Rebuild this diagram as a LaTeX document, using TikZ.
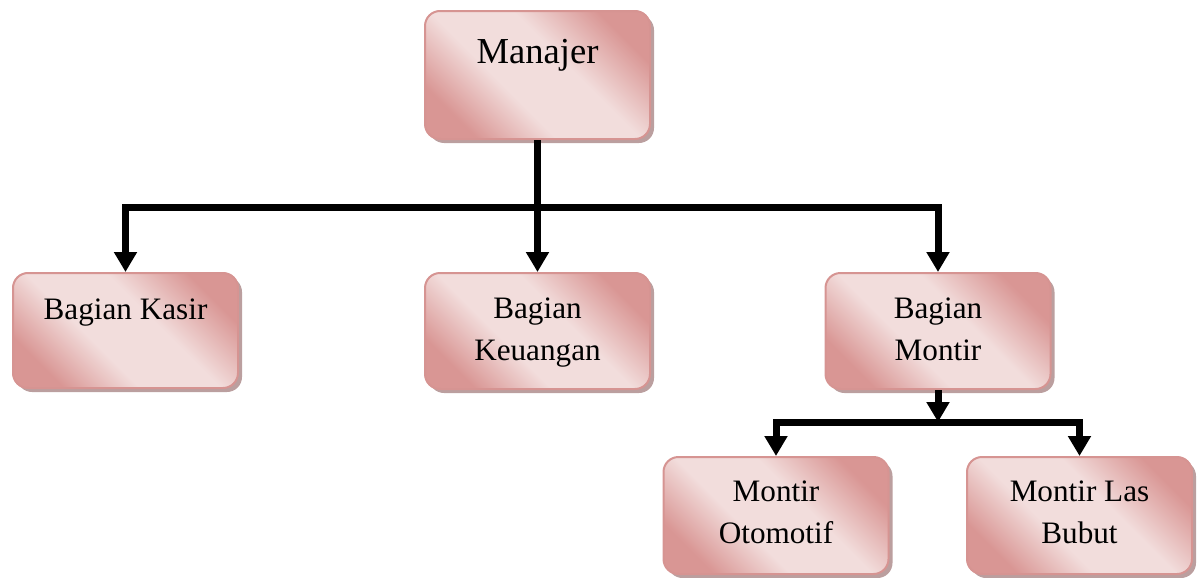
\documentclass[tikz,border=0pt]{standalone}
\usepackage{fontspec}
\setmainfont{Liberation Serif}
\usetikzlibrary{arrows.meta,shadows}
\definecolor{dk}{RGB}{217,150,148}
\definecolor{lt}{RGB}{242,221,220}
\definecolor{bord}{RGB}{214,148,146}
\definecolor{shad}{RGB}{170,135,135}
\pgfdeclareverticalshading{wordgrad}{100bp}{color(0bp)=(dk); color(25bp)=(dk); color(41bp)=(lt); color(58bp)=(lt); color(75bp)=(dk); color(100bp)=(dk)}
\tikzset{
  box/.style={rectangle, rounded corners=7.5pt, draw=bord, line width=1pt,
    shading=wordgrad, shading angle=-45, minimum width=112.5pt, inner sep=0pt,
    anchor=north, font=\fontsize{15.6}{21}\selectfont,
    drop shadow={shadow xshift=2pt, shadow yshift=-2pt, fill=shad, opacity=0.8}},
  conn/.style={line width=3.5pt, line join=miter},
  arr/.style={conn, -{Triangle[width=11pt,length=10pt]}}
}
\newcommand{\tl}[1]{\begin{tabular}[t]{@{}c@{}}#1\end{tabular}}
\begin{document}
\begin{tikzpicture}[x=0.5pt,y=-0.5pt]
\useasboundingbox (0,0) rectangle (1200,578);
\node[box, font=\fontsize{18.3}{22}\selectfont, text height=26pt, text depth=38pt] (man) at (537.5,10) {\tl{Manajer}};
\node[box, text height=23pt, text depth=34.5pt] (kas) at (125.5,272) {\tl{Bagian Kasir}};
\node[box, text height=22.5pt, text depth=35.5pt] (keu) at (537.5,272) {\tl{Bagian\\Keuangan}};
\node[box, text height=22.5pt, text depth=35.5pt] (mon) at (938,272) {\tl{Bagian\\Montir}};
\node[box, text height=22pt, text depth=36.5pt] (oto) at (776,456) {\tl{Montir\\Otomotif}};
\node[box, text height=22pt, text depth=36.5pt] (bub) at (1079.5,456) {\tl{Montir Las\\Bubut}};
\coordinate (b1) at (0,207);
\coordinate (b2) at (0,422);
\draw[arr] (man.south) -- (keu.north);
\draw[arr] (man.south |- b1) -| (kas.north);
\draw[arr] (man.south |- b1) -| (mon.north);
\draw[arr] (mon.south) -- (mon.south |- b2);
\draw[arr] (mon.south |- b2) -| (oto.north);
\draw[arr] (mon.south |- b2) -| (bub.north);
\end{tikzpicture}
\end{document}
